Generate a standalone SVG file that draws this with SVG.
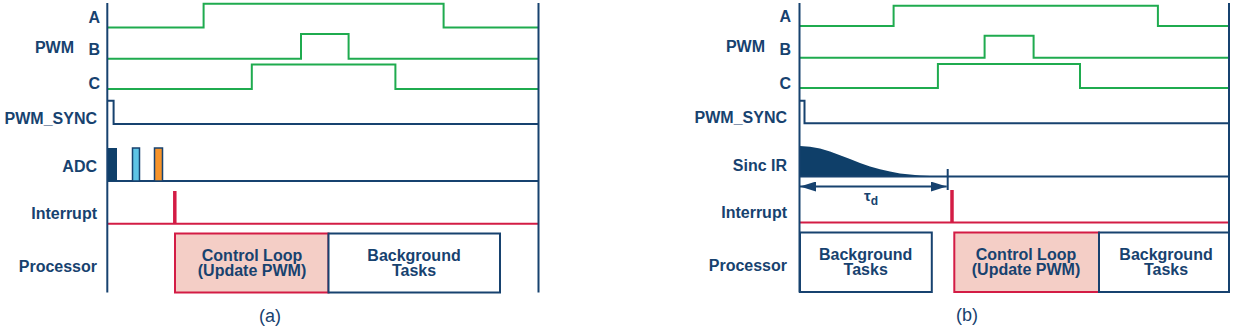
<svg xmlns="http://www.w3.org/2000/svg" width="1235" height="328" viewBox="0 0 1235 328">
<defs>
<style>
.lbl{font-family:"Liberation Sans",Arial,sans-serif;font-weight:bold;font-size:16px;fill:#17426f;text-anchor:end}
.box{font-family:"Liberation Sans",Arial,sans-serif;font-weight:bold;font-size:16px;fill:#17426f;text-anchor:middle}
.cap{font-family:"Liberation Sans Narrow","Liberation Sans",Arial,sans-serif;font-size:18px;fill:#17426f;text-anchor:middle}
.axis{stroke:#17426f;stroke-width:2;fill:none}
.pwm{stroke:#1fab4f;stroke-width:2;fill:none}
.sig{stroke:#17426f;stroke-width:2;fill:none}
.irq{stroke:#d31c45;stroke-width:2;fill:none}
.spike{stroke:#d31c45;stroke-width:3.5;fill:none}
.ctl{fill:#f4cec6;stroke:#d31c45;stroke-width:2}
.bg{fill:#ffffff;stroke:#17426f;stroke-width:2}
</style>
<marker id="arr" viewBox="0 0 16 10" refX="16" refY="5" markerWidth="16" markerHeight="10" markerUnits="userSpaceOnUse" orient="auto-start-reverse">
<path d="M0,0 L16,5 L0,10 Z" fill="#17426f"/>
</marker>
</defs>

<!-- Panel (a) -->
<g id="panel-a">
<g id="a-labels">
<text class="lbl" x="100" y="23">A</text>
<text class="lbl" x="74" y="53">PWM</text>
<text class="lbl" x="100" y="55">B</text>
<text class="lbl" x="100" y="89">C</text>
<text class="lbl" x="97" y="124">PWM_SYNC</text>
<text class="lbl" x="97" y="172">ADC</text>
<text class="lbl" x="97" y="219">Interrupt</text>
<text class="lbl" x="97" y="272">Processor</text>
</g>
<g id="a-signals">
<path class="pwm" d="M108,27.5 H203.6 V3.8 H443.6 V27.5 H538.5"/>
<path class="pwm" d="M108,58.7 H301 V34 H348.6 V58.7 H538.5"/>
<path class="pwm" d="M108,89 H251.8 V64.5 H395.4 V89 H538.5"/>
<path class="sig" d="M108,100.7 H113.6 V124 H538.5"/>
<path class="sig" d="M108,181 H538.5"/>
<rect x="108" y="148" width="9" height="33" fill="#0f3f69"/>
<rect x="132.5" y="148" width="7" height="33" fill="#5ec4e6" stroke="#17426f" stroke-width="1.5"/>
<rect x="154.5" y="148" width="8" height="33" fill="#f6932a" stroke="#17426f" stroke-width="1.5"/>
<path class="irq" d="M108,223.7 H538.5"/>
<path class="spike" d="M174.8,191 V223.7"/>
</g>
<g id="a-axes">
<path class="axis" d="M107.3,3 V292.5"/>
<path class="axis" d="M538.5,3 V292.5"/>
</g>
<g id="a-control">
<rect class="ctl" x="175" y="233.5" width="153.5" height="59"/>
<text class="box" x="252" y="260.5">Control Loop</text>
<text class="box" x="252" y="276">(Update PWM)</text>
</g>
<g id="a-background">
<rect class="bg" x="328.5" y="233.5" width="171.5" height="59"/>
<text class="box" x="414" y="260.5">Background</text>
<text class="box" x="414" y="276">Tasks</text>
</g>
<text class="cap" x="270" y="322">(a)</text>
</g>

<!-- Panel (b) -->
<g id="panel-b">
<g id="b-labels">
<text class="lbl" x="791" y="22">A</text>
<text class="lbl" x="765" y="52">PWM</text>
<text class="lbl" x="791" y="55">B</text>
<text class="lbl" x="791" y="88.5">C</text>
<text class="lbl" x="787" y="123">PWM_SYNC</text>
<text class="lbl" x="787" y="171">Sinc IR</text>
<text class="lbl" x="787" y="218">Interrupt</text>
<text class="lbl" x="787" y="271">Processor</text>
</g>
<g id="b-signals">
<path class="pwm" d="M800,26 H893.6 V5.7 H1157.9 V26 H1229"/>
<path class="pwm" d="M800,57.7 H984.6 V35.7 H1033.6 V57.7 H1229"/>
<path class="pwm" d="M800,88 H937.9 V64 H1080 V88 H1229"/>
<path class="sig" d="M800,100.7 H804.5 V123.3 H1229"/>
<path d="M800,176.7 V146 L810,146.7 L820,148.6 L830,151.6 L840,155.2 L850,159.1 L860,162.9 L870,166.4 L880,169.3 L890,171.6 L900,173.4 L910,174.6 L920,175.5 L930,176 L940,176.3 L948,176.7 Z" fill="#0f3f69"/>
<path class="sig" d="M800,176.5 H1229"/>
<path class="sig" d="M947.7,169 V190"/>
<path class="irq" d="M800,222.5 H1229"/>
<path class="spike" d="M952,190 V222.5"/>
</g>
<g id="b-axes">
<path class="axis" d="M799.5,3 V292.5"/>
<path class="axis" d="M1229,3 V292.5"/>
</g>
<g id="b-bg1">
<rect class="bg" x="800" y="232.5" width="131.8" height="59.5"/>
<text class="box" x="865.7" y="259.5">Background</text>
<text class="box" x="865.7" y="275">Tasks</text>
</g>
<g id="b-control">
<rect class="ctl" x="954.3" y="232.5" width="144.7" height="59.5"/>
<text class="box" x="1026" y="259.5">Control Loop</text>
<text class="box" x="1026" y="275">(Update PWM)</text>
</g>
<g id="b-bg2">
<rect class="bg" x="1099" y="232.5" width="130" height="59.5"/>
<text class="box" x="1166" y="259.5">Background</text>
<text class="box" x="1166" y="275">Tasks</text>
</g>
<text class="cap" x="967" y="321">(b)</text>
</g>

<g id="connectors">
<path d="M800,186.5 H946.7" stroke="#17426f" stroke-width="2" fill="none" marker-start="url(#arr)" marker-end="url(#arr)"/>
<text font-family="'Liberation Sans',Arial,sans-serif" font-weight="bold" font-size="15px" fill="#17426f" x="864" y="201">τ<tspan font-size="12px" dy="4">d</tspan></text>
</g>
</svg>
